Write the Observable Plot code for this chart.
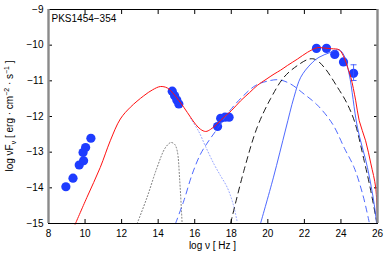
<!DOCTYPE html>
<html><head><meta charset="utf-8">
<script src="https://cdn.jsdelivr.net/npm/d3@7"></script>
<script src="https://cdn.jsdelivr.net/npm/@observablehq/plot@0.6"></script>
<style>body{margin:0;background:#fff}#chart svg{display:block}</style>
</head><body><div id="chart"></div>
<script>
// ---- data ----
const title = "PKS1454\u2212354";
const xTicks = [8, 10, 12, 14, 16, 18, 20, 22, 24, 26];
const yTicks = [-15, -14, -13, -12, -11, -10, -9];
const xDomain = [8, 26];
const yDomain = [-15, -9];

// observed SED points
const obsX = [8.95, 9.34, 9.68, 9.92, 9.89, 10.03, 10.32, 14.77, 14.90, 15.02, 15.13, 17.25, 17.42, 17.66, 17.88, 22.66, 23.21, 23.66, 24.14, 24.69];
const obsY = [-13.97, -13.73, -13.36, -13.24, -13.01, -12.87, -12.61, -11.29, -11.42, -11.54, -11.65, -12.28, -12.05, -12.02, -12.02, -10.09, -10.09, -10.26, -10.47, -10.79];
// error bar on the last gamma-ray point
const errX = [24.69];
const errLo = [-10.99];
const errHi = [-10.55];

// total model (red)
const totalX = [9.46, 10.1, 10.83, 11.38, 11.93, 12.48, 13.21, 13.7, 14.12, 14.5, 14.85, 15.4, 15.77, 16.05, 16.32, 16.6, 16.87, 17.2, 17.6, 18.0, 18.51, 19.0, 19.42, 19.9, 20.34, 20.7, 21.07, 21.62, 22.17, 22.71, 23.08, 23.5, 23.9, 24.17, 24.36, 24.54, 24.81, 25.0, 25.35, 25.64, 25.9, 26.0];
const totalY = [-15.02, -14.27, -13.43, -12.68, -12.07, -11.74, -11.42, -11.25, -11.16, -11.2, -11.37, -11.74, -12.02, -12.22, -12.36, -12.42, -12.36, -12.22, -12.02, -11.84, -11.56, -11.33, -11.13, -10.96, -10.81, -10.7, -10.57, -10.39, -10.2, -10.07, -10.08, -10.1, -10.13, -10.34, -10.62, -10.9, -11.56, -12.12, -12.68, -13.33, -13.99, -14.95];

// accretion disk (dotted grey)
const diskX = [12.85, 13.39, 13.94, 14.4, 14.7, 14.9, 15.04, 15.18, 15.31];
const diskY = [-15.0, -14.27, -13.43, -12.87, -12.73, -12.78, -12.96, -13.8, -15.0];

// synchrotron tail (dotted light blue)
const syncX = [15.77, 16.22, 16.6, 17.05, 17.4, 17.78, 18.1, 18.33];
const syncY = [-12.05, -12.42, -12.85, -13.33, -13.65, -13.99, -14.45, -14.97];

// SSC (dashed blue)
const sscX = [14.95, 15.4, 15.86, 16.32, 16.77, 17.3, 17.9, 18.6, 19.33, 19.97, 20.61, 21.25, 21.98, 22.71, 23.54, 24.2, 24.72, 25.2, 25.54];
const sscY = [-15.0, -14.37, -13.62, -13.05, -12.68, -12.3, -11.85, -11.45, -11.13, -11.01, -10.97, -11.09, -11.37, -11.68, -12.21, -12.9, -13.43, -14.2, -14.95];

// EC disk (dashed black)
const ecdX = [17.96, 18.69, 19.42, 20.15, 20.88, 21.62, 22.25, 22.6, 23.08, 23.81, 24.3, 24.75, 25.27, 25.6, 25.9, 25.97];
const ecdY = [-15.0, -13.52, -12.3, -11.5, -10.9, -10.57, -10.39, -10.4, -10.62, -11.18, -11.6, -12.15, -13.24, -14.0, -14.8, -15.0];

// EC BLR (solid blue)
const ecbX = [19.6, 20.3, 20.98, 21.43, 21.8, 22.35, 22.8, 23.44, 23.9, 24.17, 24.45, 24.9, 25.45, 25.82, 25.95];
const ecbY = [-15.0, -13.72, -12.35, -11.46, -10.9, -10.53, -10.34, -10.2, -10.13, -10.29, -10.81, -12.3, -13.43, -14.46, -15.0];

// ---- build ----
const zip = (xs, ys) => xs.map((x, i) => ({x, y: ys[i]}));
const obs = zip(obsX, obsY);
const err = errX.map((x, i) => ({x, lo: errLo[i], hi: errHi[i]}));
const fmtY = d => d < 0 ? "\u2212" + Math.abs(d) : String(d);
const capSymbol = {draw(ctx, size) { const w = Math.sqrt(size); ctx.moveTo(-w, 0); ctx.lineTo(w, 0); }};

const curve = "catmull-rom";
const plot = Plot.plot({
  width: 387, height: 254,
  marginLeft: 48, marginRight: 10, marginTop: 9, marginBottom: 31,
  style: {fontFamily: "'Liberation Sans', Arial, Helvetica, sans-serif", fontSize: "10px", background: "#fff", color: "#000"},
  x: {domain: xDomain, ticks: xTicks},
  y: {domain: yDomain, ticks: yTicks},
  marks: [
    Plot.axisX({anchor: "bottom", ticks: xTicks, tickSize: -4, tickPadding: 10, label: null}),
    Plot.axisX({anchor: "top", ticks: xTicks, tickSize: -4, tickFormat: () => "", label: null}),
    Plot.axisY({anchor: "left", ticks: yTicks, tickSize: -4, tickPadding: 9, tickFormat: fmtY, label: null}),
    Plot.axisY({anchor: "right", ticks: yTicks, tickSize: -4, tickFormat: () => "", label: null}),
    Plot.dot(obs, {x: "x", y: "y", r: 4.6, fill: "#1e3cff", stroke: "none"}),
    Plot.ruleX(err, {x: "x", y1: "lo", y2: "hi", stroke: "#3a55ff", strokeWidth: 0.9}),
    Plot.dot(err, {x: "x", y: "lo", symbol: capSymbol, r: 1.7, stroke: "#3a55ff", strokeWidth: 0.9}),
    Plot.dot(err, {x: "x", y: "hi", symbol: capSymbol, r: 1.7, stroke: "#3a55ff", strokeWidth: 0.9}),
    Plot.line(zip(diskX, diskY), {x: "x", y: "y", curve, stroke: "#666", strokeWidth: 0.9, strokeDasharray: "1,2.2"}),
    Plot.line(zip(syncX, syncY), {x: "x", y: "y", curve, stroke: "#8898ff", strokeWidth: 0.9, strokeDasharray: "1,2.2"}),
    Plot.line(zip(sscX, sscY), {x: "x", y: "y", curve, stroke: "#3a58ff", strokeWidth: 0.9, strokeDasharray: "6,4.5"}),
    Plot.line(zip(ecdX, ecdY), {x: "x", y: "y", curve, stroke: "#000", strokeWidth: 0.9, strokeDasharray: "6,4.5"}),
    Plot.line(zip(ecbX, ecbY), {x: "x", y: "y", curve, stroke: "#3a58ff", strokeWidth: 0.9}),
    Plot.line(zip(totalX, totalY), {x: "x", y: "y", curve, stroke: "#ff1010", strokeWidth: 1}),
    Plot.ruleY([yDomain[0], yDomain[1]], {stroke: "#000", strokeWidth: 1}),
    Plot.ruleX([xDomain[0], xDomain[1]], {stroke: "#8a8a8a", strokeWidth: 2.4}),
    Plot.text([title], {frameAnchor: "top-left", dx: 3, dy: 5, lineAnchor: "top", fontSize: 10, fill: "#000"})
  ]
});
document.getElementById("chart").appendChild(plot);

// axis titles with sub/superscripts
const svg = d3.select(plot);
const font = "'Liberation Sans', Arial, Helvetica, sans-serif";
const yl = svg.append("text")
  .attr("transform", "translate(13,116) rotate(-90)")
  .attr("text-anchor", "middle").attr("font-family", font).attr("font-size", 10).attr("fill", "#000");
yl.append("tspan").text("log \u03BDF");
yl.append("tspan").attr("font-size", 7).attr("dy", 3).text("\u03BD");
yl.append("tspan").attr("dy", -3).text(" [ erg \u00B7 cm");
yl.append("tspan").attr("font-size", 7).attr("dy", -4).text("\u22122");
yl.append("tspan").attr("dy", 4).text(" \u00B7 s");
yl.append("tspan").attr("font-size", 7).attr("dy", -4).text("\u22121");
yl.append("tspan").attr("dy", 4).text(" ]");

svg.append("text")
  .attr("x", 212.5).attr("y", 249)
  .attr("text-anchor", "middle").attr("font-family", font).attr("font-size", 10).attr("fill", "#000")
  .text("log \u03BD [ Hz ]");
</script>
</body></html>
